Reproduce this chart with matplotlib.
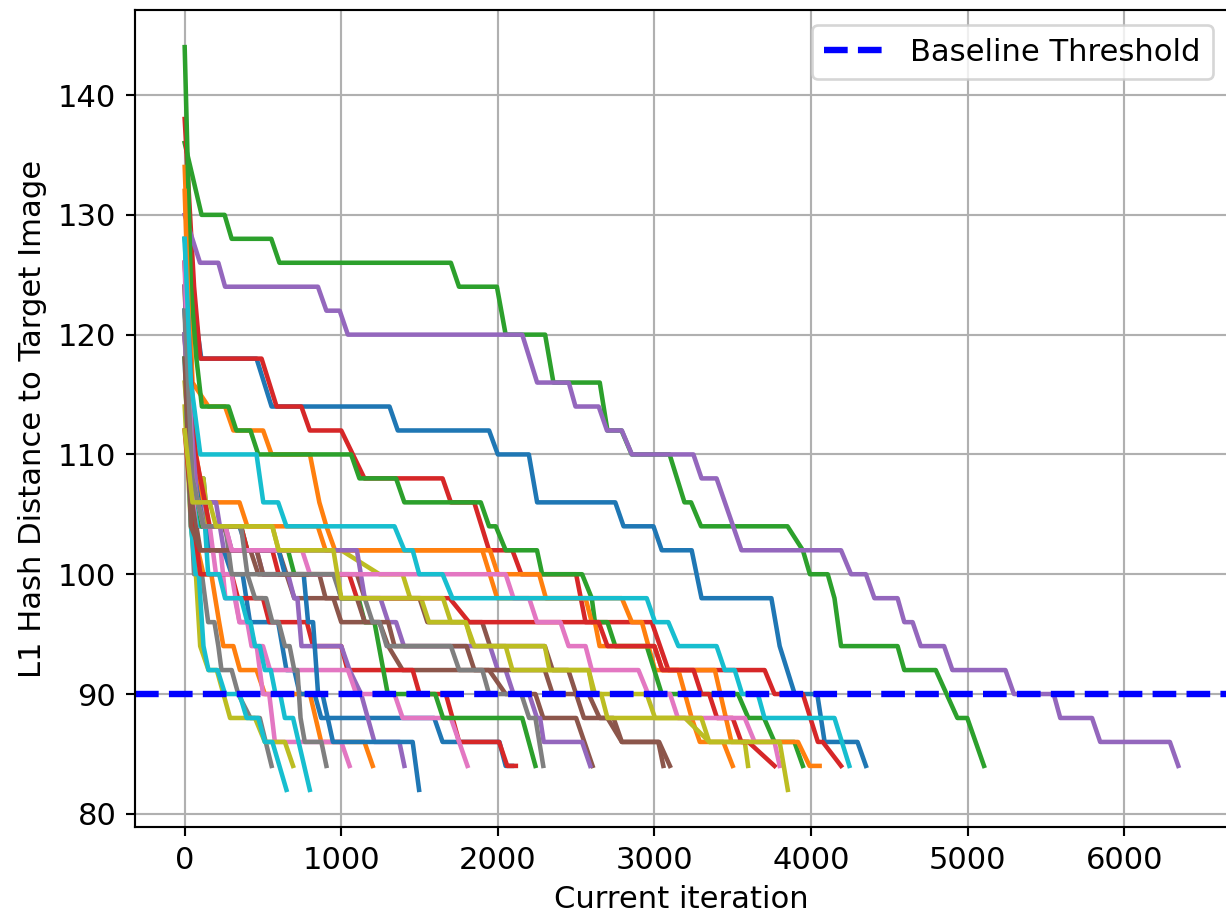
import matplotlib
matplotlib.use("Agg")
import matplotlib.pyplot as plt

plt.rcParams['font.size'] = 11.5

# (iteration, L1 hash distance) breakpoints for each attack run
run_b1 = [(0, 128), (106, 118), (459, 118), (555, 114), (1308, 114), (1361, 112), (1944, 112), (2000, 110),
          (2198, 110), (2251, 106), (2750, 106), (2803, 104), (2994, 104), (3047, 102), (3238, 102), (3301, 98),
          (3747, 98), (3800, 94), (3896, 90), (4040, 90), (4087, 86), (4297, 86), (4351, 84)]
run_o1 = [(0, 124), (50, 104), (120, 100), (170, 100), (220, 96), (247, 94), (311, 94), (353, 92), (459, 92),
          (512, 90), (800, 90), (872, 86), (1148, 86), (1201, 84)]
run_g1 = [(0, 136), (108, 130), (255, 130), (300, 128), (553, 128), (605, 126), (1700, 126), (1752, 124),
          (1994, 124), (2050, 120), (2302, 120), (2355, 116), (2651, 116), (2700, 112), (2790, 112), (2855, 110),
          (3097, 110), (3192, 106), (3234, 106), (3298, 104), (3850, 104), (3948, 102), (3993, 100), (4107, 100),
          (4150, 98), (4192, 94), (4553, 94), (4596, 92), (4797, 92), (4935, 88), (4998, 88), (5105, 84)]
run_r1 = [(0, 138), (60, 124), (100, 118), (491, 118), (587, 114), (745, 114), (799, 112), (1000, 112),
          (1148, 108), (1647, 108), (1700, 106), (1849, 106), (1944, 102), (2093, 102), (2150, 100), (2500, 100),
          (2560, 96), (2983, 96), (3089, 92), (3704, 92), (3767, 90), (3948, 90), (4044, 86), (4075, 86),
          (4192, 84)]
run_p1 = [(0, 130), (98, 126), (215, 126), (258, 124), (851, 124), (905, 122), (990, 122), (1042, 120),
          (2156, 120), (2251, 116), (2453, 116), (2496, 114), (2644, 114), (2697, 112), (2792, 112), (2856, 110),
          (3249, 110), (3301, 108), (3397, 108), (3556, 102), (4192, 102), (4256, 100), (4351, 100), (4405, 98),
          (4553, 98), (4596, 96), (4649, 96), (4701, 94), (4850, 94), (4903, 92), (5242, 92), (5296, 90),
          (5550, 90), (5592, 88), (5795, 88), (5847, 86), (6292, 86), (6346, 84)]
run_br1 = [(0, 124), (40, 110), (80, 104), (250, 104), (300, 102), (420, 102), (470, 100), (650, 100), (700, 98),
           (950, 98), (1000, 96), (1244, 96), (1300, 94), (1392, 92), (1944, 92), (2050, 90), (2240, 90),
           (2290, 88), (2500, 88), (2605, 84)]
run_pk1 = [(0, 126), (30, 110), (80, 106), (130, 106), (160, 102), (230, 102), (260, 98), (320, 98), (350, 96),
           (400, 96), (427, 94), (460, 94), (500, 90), (540, 90), (576, 86), (1000, 86), (1053, 84)]
run_gy1 = [(0, 122), (30, 108), (60, 100), (110, 100), (150, 96), (190, 96), (215, 94), (235, 92), (300, 92),
           (342, 90), (420, 88), (480, 88), (555, 84)]
run_ol1 = [(0, 114), (40, 104), (67, 101), (99, 94), (152, 92), (205, 92), (290, 88), (449, 88), (512, 86),
           (640, 86), (692, 84)]
run_c1 = [(0, 118), (40, 104), (70, 100), (90, 100), (120, 94), (152, 92), (210, 92), (258, 90), (350, 90),
          (396, 88), (470, 88), (512, 86), (560, 86), (650, 82)]

run_b2 = [(0, 120), (50, 108), (120, 108), (160, 102), (250, 102), (300, 100), (370, 100), (417, 96), (597, 96),
          (650, 92), (700, 92), (735, 90), (830, 90), (872, 88), (1594, 88), (1647, 86), (2010, 86), (2050, 84),
          (2090, 84)]
run_o2 = [(0, 134), (50, 116), (152, 114), (258, 114), (311, 112), (501, 112), (555, 110), (800, 110),
          (860, 106), (905, 104), (960, 102), (1901, 102), (1996, 98), (2792, 98), (2856, 96), (2920, 96),
          (3004, 92), (3153, 92), (3238, 88), (3290, 86), (3440, 86), (3500, 84)]
run_g2 = [(0, 144), (40, 124), (75, 118), (110, 114), (280, 114), (330, 112), (420, 112), (470, 110), (1063, 110),
          (1116, 108), (1350, 108), (1403, 106), (1891, 106), (1944, 104), (1987, 104), (2050, 102), (2250, 102),
          (2283, 100), (2538, 100), (2600, 98), (2620, 96), (2700, 96), (2750, 94), (2951, 94), (3047, 90),
          (3534, 90), (3600, 88), (3700, 88), (3767, 86), (3894, 86), (3948, 84)]
run_r2 = [(0, 112), (40, 106), (100, 100), (300, 100), (340, 98), (500, 98), (540, 96), (780, 96), (820, 94),
          (1000, 94), (1040, 92), (1456, 92), (1500, 90), (1668, 90), (1753, 86), (2008, 86), (2060, 84),
          (2115, 84)]
run_p2 = [(0, 124), (60, 110), (120, 104), (260, 104), (300, 102), (460, 102), (500, 100), (660, 100), (700, 98),
          (720, 98), (746, 94), (1000, 94), (1053, 92), (1127, 90), (1212, 86), (1371, 86), (1403, 84)]
run_br2 = [(0, 120), (50, 106), (100, 102), (600, 102), (650, 100), (1100, 100), (1150, 98), (1500, 98),
           (1550, 96), (1900, 96), (1950, 94), (2300, 94), (2350, 92), (2450, 92), (2500, 90), (2550, 88),
           (2739, 88), (2792, 86), (3025, 86), (3057, 84)]
run_pk2 = [(0, 120), (30, 110), (100, 104), (160, 104), (200, 100), (300, 100), (350, 96), (410, 96), (450, 94),
           (500, 94), (545, 92), (1043, 92), (1096, 90), (1340, 90), (1392, 88), (1700, 88), (1806, 84)]
run_gy2 = [(0, 120), (50, 108), (130, 104), (260, 104), (300, 100), (400, 100), (449, 98), (520, 98), (560, 96),
           (600, 96), (640, 94), (670, 94), (700, 92), (720, 92), (740, 88), (767, 86), (873, 86), (905, 84)]
run_ol2 = [(0, 116), (50, 108), (120, 108), (150, 104), (560, 104), (600, 102), (1000, 102), (1244, 100),
           (1392, 100), (1440, 98), (1510, 98), (1560, 96), (1795, 96), (1840, 94), (2300, 94), (2330, 92),
           (2580, 92), (2610, 90), (2951, 90), (3004, 88), (3195, 88), (3351, 86), (3577, 86), (3598, 84)]
run_c2 = [(0, 128), (50, 110), (100, 104), (130, 104), (150, 100), (220, 100), (258, 98), (360, 98), (400, 96),
          (420, 96), (449, 94), (480, 94), (512, 92), (550, 92), (580, 90), (610, 90), (640, 88), (692, 88),
          (799, 82)]

run_b3 = [(0, 122), (60, 110), (110, 104), (350, 104), (400, 102), (600, 102), (640, 100), (760, 100), (788, 96),
          (820, 96), (852, 90), (880, 90), (947, 86), (1456, 86), (1497, 82)]
run_o3 = [(0, 132), (50, 112), (120, 106), (350, 106), (400, 104), (850, 104), (900, 102), (1950, 102),
          (2000, 100), (2264, 100), (2307, 98), (2560, 98), (2600, 96), (2620, 96), (2650, 94), (3000, 94),
          (3050, 92), (3386, 92), (3492, 86), (3917, 86), (3991, 84), (4055, 84)]
run_g3 = [(0, 118), (60, 108), (110, 104), (360, 104), (400, 102), (660, 102), (700, 100), (960, 100),
          (1000, 98), (1110, 98), (1150, 96), (1212, 96), (1297, 90), (1600, 90), (1650, 88), (2156, 88),
          (2240, 84)]
run_r3 = [(0, 126), (70, 110), (160, 104), (360, 104), (400, 102), (560, 102), (600, 100), (1050, 100),
          (1100, 98), (1692, 98), (1816, 96), (2644, 96), (2700, 94), (3000, 94), (3050, 92), (3250, 92),
          (3300, 90), (3350, 90), (3400, 88), (3500, 88), (3555, 86), (3600, 86), (3767, 84)]
run_p3 = [(0, 120), (80, 106), (200, 106), (250, 102), (1100, 102), (1150, 98), (1250, 98), (1300, 96),
          (1350, 96), (1400, 94), (1950, 94), (2000, 92), (2050, 92), (2100, 90), (2200, 90), (2250, 88),
          (2270, 88), (2293, 86), (2538, 86), (2590, 84)]
run_br3 = [(0, 118), (40, 104), (100, 102), (460, 102), (500, 100), (860, 100), (900, 98), (1100, 98),
           (1150, 96), (1300, 96), (1340, 94), (1800, 94), (1850, 92), (2300, 92), (2350, 90), (2580, 90),
           (2650, 88), (2700, 88), (2792, 86), (3030, 86), (3099, 84)]
run_pk3 = [(0, 126), (50, 108), (120, 104), (260, 104), (300, 102), (750, 102), (800, 100), (2050, 100),
           (2100, 98), (2200, 98), (2250, 96), (2400, 96), (2452, 94), (2560, 94), (2600, 92), (2898, 92),
           (2960, 90), (3100, 90), (3150, 88), (3577, 88), (3640, 86), (3767, 86), (3800, 84)]
run_gy3 = [(0, 122), (50, 108), (120, 104), (360, 104), (400, 100), (950, 100), (1000, 98), (1150, 98),
           (1200, 96), (1244, 96), (1290, 94), (1700, 94), (1753, 92), (1901, 92), (1944, 90), (2150, 90),
           (2200, 88), (2240, 88), (2290, 84)]
run_ol3 = [(0, 112), (50, 106), (160, 106), (200, 104), (560, 104), (600, 102), (950, 102), (1000, 98),
           (1650, 98), (1700, 96), (1795, 96), (1850, 94), (2050, 94), (2093, 92), (2580, 92), (2620, 90),
           (2660, 90), (2700, 88), (3300, 88), (3350, 86), (3800, 86), (3852, 82)]
run_c3 = [(0, 128), (40, 116), (100, 110), (459, 110), (502, 106), (597, 106), (650, 104), (1340, 104),
          (1403, 102), (1456, 102), (1498, 100), (1647, 100), (1710, 98), (2951, 98), (3004, 96), (3089, 96),
          (3153, 94), (3397, 94), (3449, 92), (3513, 92), (3560, 90), (3661, 90), (3703, 88), (4150, 88),
          (4245, 84)]

baseline = 90

runs = [run_b1, run_o1, run_g1, run_r1, run_p1, run_br1, run_pk1, run_gy1, run_ol1, run_c1,
        run_b2, run_o2, run_g2, run_r2, run_p2, run_br2, run_pk2, run_gy2, run_ol2, run_c2,
        run_b3, run_o3, run_g3, run_r3, run_p3, run_br3, run_pk3, run_gy3, run_ol3, run_c3]

fig = plt.figure(figsize=(1226 / 192, 917 / 192), dpi=192)
ax = fig.add_axes([135 / 1226, 90 / 917, 1093 / 1226, 817 / 917])

for run in runs:
    it, dist = zip(*run)
    ax.plot(it, dist, linewidth=1.7)

ax.axhline(baseline, color='b', linestyle='--', linewidth=2.4, label="Baseline Threshold")

ax.grid(True)
ax.set_xlabel("Current iteration")
ax.set_ylabel("L1 Hash Distance to Target Image")
ax.legend(loc='upper right')

fig.savefig("out.png", dpi=192)
